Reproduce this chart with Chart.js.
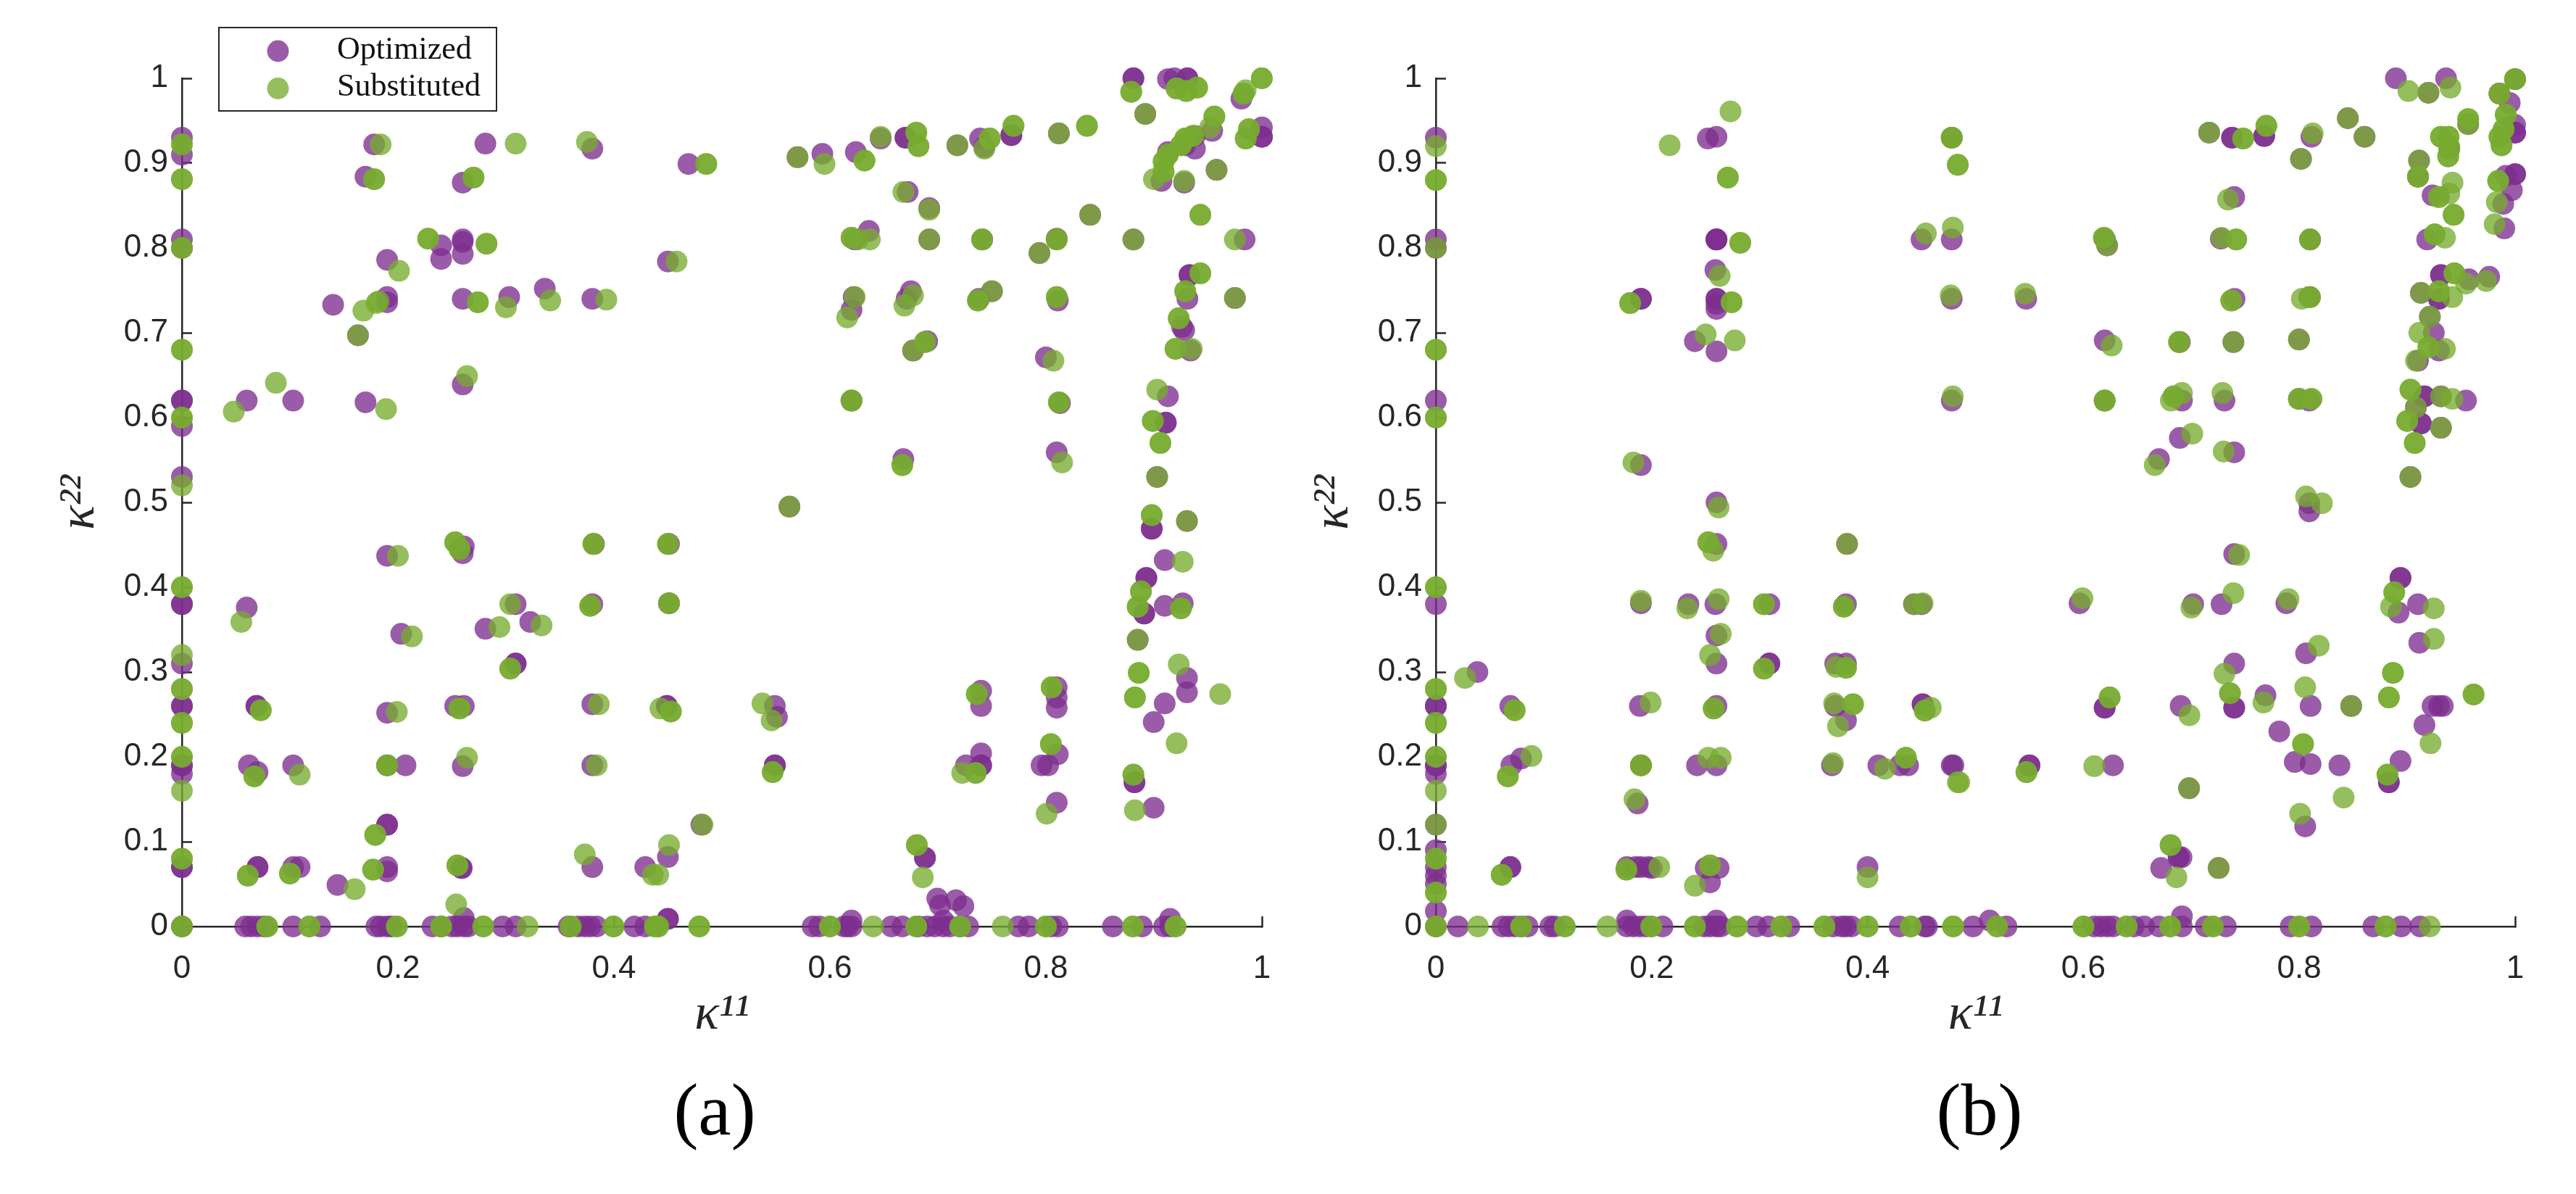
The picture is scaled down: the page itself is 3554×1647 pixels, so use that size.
<!DOCTYPE html>
<html><head><meta charset="utf-8">
<style>html,body{margin:0;padding:0;background:#fff;overflow:hidden;width:3554px;height:1647px}canvas{position:absolute;top:0}</style>
<script src="https://cdn.jsdelivr.net/npm/chart.js@4/dist/chart.umd.min.js"></script>
</head><body>
<canvas id="a" width="1800" height="1647" style="left:0"></canvas>
<canvas id="b" width="1754" height="1647" style="left:1800px"></canvas>
<script>
const seriesNames=['Optimized','Substituted'];
const xTickValues=[0,0.2,0.4,0.6,0.8,1];
const yTickValues=[0,0.1,0.2,0.3,0.4,0.5,0.6,0.7,0.8,0.9,1];
const panelCaptions=['(a)','(b)'];

const panelAOptimized=[
[0,.93],[0,.91],[0,.81],[0,.80],[0,.62],[0,.62],[0,.59],[0,.53],
[.178,.922],[.170,.884],[.26,.877],[.281,.923],[.380,.917],[.240,.803],[.26,.81],[.26,.807],[.26,.793],[.24,.787],[.19,.786],[.19,.742],[.19,.736],[.14,.733],[.26,.74],[.303,.742],[.336,.752],[.38,.74],[.163,.697],[.06,.62],[.103,.62],[.17,.618],[.26,.639],
[.45,.784],[.469,.899],[.57,.907],[.593,.911],[.624,.913],[.647,.929],[.67,.93],[.67,.93],[.739,.929],[.768,.933],[.768,.933],[.718,.921],[.743,.919],[.812,.935],[.881,1],[.881,1],[.913,.999],[.919,1],[.931,1],[.931,1],[.981,.976],[1,.942],[1,.931],[1,.931],[.938,.932],[.954,.938],[.929,.921],[.938,.917],[.913,.913],[.907,.879],[.928,.877],[.958,.892],[.892,.958],
[.672,.866],[.692,.847],[.636,.82],[.623,.81],[.692,.81],[.741,.81],[.794,.794],[.81,.811],[.881,.81],[.984,.81],[.841,.839],[.933,.768],[.933,.768],[.931,.74],[.975,.741],[.811,.738],[.75,.749],[.738,.74],[.675,.749],[.671,.74],[.622,.742],[.62,.727],[.926,.707],[.928,.703],[.934,.679],[.69,.69],[.677,.679],[.8,.671],[.62,.62],[.813,.617],[.913,.625],[.911,.594],[.911,.594],[.668,.551],[.81,.559],[.903,.53],[.5625,.495],
[0,.38],[0,.38],[0,.31],[0,.26],[0,.26],[0,.19],[0,.19],[0,.18],[0,.07],[0,.07],[0,0],
[.3815,.451],[.261,.448],[.26,.44],[.19,.437],[.06,.376],[.38,.38],[.309,.38],[.3225,.359],[.281,.351],[.203,.345],[.309,.31],[.309,.31],[.38,.262],[.069,.26],[.069,.26],[.253,.26],[.261,.26],[.19,.252],[.062,.19],[.07,.182],[.103,.19],[.207,.19],[.19,.19],[.26,.189],[.38,.19],[.19,.12],[.19,.12],[.07,.07],[.07,.07],[.103,.07],[.109,.07],[.19,.07],[.19,.065],[.259,.069],[.259,.069],[.144,.049],[.38,.07],[.429,.07],[.261,.01],
[.0586,0],[.064,0],[.07,0],[.076,0],[.103,0],[.128,0],[.18,0],[.184,0],[.19,0],[.194,0],[.232,0],[.24,0],[.25,0],[.255,0],[.261,0],[.265,0],[.297,0],[.309,0],[.358,0],[.367,0],[.373,0],[.378,0],[.384,0],[.419,0],[.429,0],
[.451,.451],[.451,.381],[.449,.26],[.449,.26],[.549,.26],[.551,.247],[.549,.19],[.549,.19],[.481,.12],[.45,.082],[.45,.009],[.45,.009],
[.584,0],[.59,0],[.613,0],[.6165,0],[.62,0],[.657,0],[.667,0],[.682,0],[.69,0],[.697,0],[.705,0],[.711,0],[.7206,0],[.728,0],[.7745,0],[.784,0],[.805,0],[.811,0],[.862,0],[.889,0],[.9094,0],[.915,0],[.62,.007],[.915,.009],[.705,.007],
[.688,.081],[.688,.081],[.6994,.033],[.702,.025],[.7167,.031],[.7236,.024],[.74,.278],[.74,.26],[.74,.204],[.726,.19],[.74,.19],[.74,.19],[.81,.282],[.81,.27],[.81,.258],[.811,.203],[.796,.19],[.802,.19],[.81,.146],[.882,.17],[.882,.17],[.8998,.14],
[.898,.469],[.898,.469],[.9306,.478],[.91,.432],[.893,.411],[.893,.411],[.891,.369],[.891,.369],[.91,.378],[.9267,.381],[.885,.338],[.9306,.293],[.9306,.276],[.91,.263],[.8998,.241]
];
const panelASubstituted=[
[0,.922],[0,.922],[0,.881],[0,.881],[0,.80],[0,.80],[0,.68],[0,.68],[0,.60],[0,.60],[0,.52],
[.184,.922],[.178,.881],[.178,.881],[.27,.883],[.27,.883],[.309,.923],[.375,.925],[.228,.811],[.228,.811],[.282,.805],[.282,.805],[.201,.773],[.18,.735],[.182,.737],[.168,.726],[.274,.736],[.274,.736],[.30,.73],[.341,.738],[.393,.739],[.163,.697],[.087,.641],[.048,.607],[.189,.61],[.264,.649],
[.4855,.899],[.4855,.899],[.458,.784],[.57,.907],[.595,.899],[.632,.903],[.632,.903],[.647,.931],[.68,.936],[.68,.936],[.682,.92],[.682,.92],[.718,.921],[.743,.917],[.748,.929],[.748,.929],[.77,.944],[.77,.944],[.812,.935],[.838,.944],[.838,.944],[.879,.984],[.879,.984],[.921,.988],[.921,.988],[.93,.985],[.93,.985],[.94,.989],[.94,.989],[.983,.982],[.983,.982],[.985,.986],[.9999,1],[.9999,1],[.892,.958],[.956,.955],[.956,.955],[.952,.942],[.936,.932],[.936,.932],[.929,.929],[.929,.929],[.925,.921],[.925,.921],[.988,.94],[.988,.94],[.985,.929],[.985,.929],[.913,.91],[.913,.91],[.909,.902],[.909,.902],[.909,.89],[.909,.89],[.9,.881],[.928,.879],[.958,.892],
[.668,.866],[.692,.845],[.62,.812],[.62,.812],[.626,.81],[.637,.81],[.692,.81],[.741,.81],[.741,.81],[.81,.81],[.81,.81],[.794,.794],[.881,.81],[.975,.81],[.841,.839],[.943,.839],[.943,.839],[.943,.77],[.943,.77],[.929,.749],[.929,.749],[.975,.741],[.81,.742],[.81,.742],[.75,.749],[.737,.738],[.737,.738],[.623,.742],[.616,.718],[.677,.744],[.669,.732],[.688,.689],[.688,.689],[.677,.679],[.807,.667],[.923,.717],[.923,.717],[.92,.681],[.92,.681],[.935,.681],[.62,.62],[.62,.62],[.812,.618],[.812,.618],[.903,.633],[.899,.596],[.899,.596],[.906,.57],[.906,.57],[.667,.544],[.667,.544],[.815,.547],[.903,.53],[.5625,.495],
[0,.40],[0,.40],[0,.32],[0,.28],[0,.28],[0,.24],[0,.24],[0,.20],[0,.20],[0,.16],[0,.08],[0,.08],[0,0],[0,0],
[.381,.451],[.381,.451],[.253,.453],[.253,.453],[.257,.445],[.257,.445],[.2,.437],[.055,.359],[.378,.378],[.378,.378],[.304,.38],[.294,.353],[.333,.355],[.213,.342],[.304,.304],[.304,.304],[.386,.262],[.073,.255],[.073,.255],[.257,.257],[.257,.257],[.199,.253],[.19,.19],[.19,.19],[.067,.177],[.067,.177],[.109,.179],[.264,.199],[.384,.19],[.179,.108],[.179,.108],[.061,.06],[.061,.06],[.1,.0625],[.1,.0625],[.177,.067],[.177,.067],[.255,.072],[.255,.072],[.16,.044],[.373,.085],[.254,.026],[.436,.061],
[.079,0],[.079,0],[.118,0],[.118,0],[.199,0],[.199,0],[.24,0],[.24,0],[.279,0],[.279,0],[.32,0],[.36,0],[.36,0],[.3996,0],[.3996,0],[.438,0],[.438,0],
[.45,.451],[.45,.451],[.451,.381],[.451,.381],[.443,.257],[.4527,.2535],[.4527,.2535],[.5375,.263],[.546,.243],[.547,.182],[.547,.182],[.482,.12],[.451,.096],[.441,.061],
[.441,0],[.441,0],[.479,0],[.479,0],[.60,0],[.60,0],[.64,0],[.68,0],[.68,0],[.7206,0],[.7206,0],[.76,0],[.8,0],[.8,0],[.8805,0],[.8805,0],[.92,0],[.92,0],
[.6805,.096],[.6805,.096],[.686,.058],[.736,.274],[.736,.274],[.735,.181],[.735,.181],[.7225,.181],[.8053,.282],[.8053,.282],[.8046,.215],[.8046,.215],[.8007,.133],[.881,.179],[.881,.179],[.8824,.137],
[.898,.485],[.898,.485],[.9306,.478],[.9267,.43],[.888,.395],[.888,.395],[.885,.377],[.885,.377],[.925,.375],[.925,.375],[.885,.338],[.886,.299],[.886,.299],[.923,.309],[.9614,.274],[.8824,.27],[.8824,.27],[.921,.216]
];
const panelBOptimized=[
[0,.93],[0,.81],[0,.80],[0,.62],[.252,.929],[.26,.931],[.26,.81],[.26,.81],[.26,.81],[.259,.774],[.19,.74],[.19,.74],[.26,.74],[.26,.74],[.26,.734],[.26,.728],[.24,.69],[.26,.678],[.45,.81],[.478,.81],[.478,.93],[.478,.74],[.478,.62],[.19,.544],[.26,.50],
[.547,.74],[.62,.81],[.622,.803],[.7165,.936],[.7377,.93],[.7377,.93],[.7675,.932],[.7675,.932],[.8016,.905],[.8113,.931],[.845,.953],[.8605,.931],[.8895,1],[.936,1],[.9197,.983],[1,.999],[.9855,.982],[.995,.971],[1,.945],[1,.936],[1,.936],[.9565,.946],[.939,.917],[.911,.903],[.91,.884],[1,.887],[1,.887],[.9913,.885],[.997,.868],[.989,.852],[.99,.823],[.9235,.862],
[.7397,.86],[.7273,.811],[.81,.81],[.9185,.81],[.74,.74],[.8093,.742],[.9127,.747],[.9313,.768],[.9313,.768],[.9572,.763],[.976,.766],[.9294,.74],[.9294,.74],[.921,.719],[.9247,.70],[.9294,.679],[.91,.667],[.6197,.691],[.6893,.689],[.739,.689],[.7997,.692],[.916,.625],[.916,.625],[.9313,.625],[.9545,.62],[.9081,.612],[.9127,.593],[.9127,.593],[.9313,.588],[.903,.53],[.6197,.62],[.6913,.62],[.7307,.62],[.7997,.622],[.8093,.62],[.6893,.576],[.7397,.559],[.67,.551],[.8093,.499],[.8093,.4894],
[0,.38],[0,.26],[0,.26],[0,.19],[0,.19],[0,.18],[0,.12],[0,.09],[0,.07],[0,.06],[0,.05],[0,.018],[0,0],
[.0385,.30],[.069,.26],[.07,.19],[.079,.198],[.069,.07],[.069,.07],[.19,.381],[.189,.26],[.19,.19],[.187,.145],[.177,.07],[.185,.07],[.19,.07],[.197,.07],[.2,.069],[.254,.052],[.25,.069],[.262,.069],[.234,.38],[.259,.38],[.26,.343],[.26,.31],[.309,.38],[.309,.31],[.309,.31],[.26,.26],[.242,.19],[.26,.19],[.26,.451],[.381,.451],[.38,.38],[.37,.31],[.38,.31],[.37,.26],[.38,.243],[.367,.19],[.41,.19],[.43,.19],[.4375,.19],[.4,.07],[.443,.38],[.45,.38],[.451,.262],[.451,.262],[.478,.19],
[.0204,0],[.0617,0],[.0674,0],[.0732,0],[.079,0],[.085,0],[.106,0],[.11,0],[.177,0],[.183,0],[.189,0],[.1946,0],[.21,0],[.2486,0],[.254,0],[.26,0],[.264,0],[.297,0],[.308,0],[.3275,0],[.368,0],[.376,0],[.38,0],[.385,0],[.4297,0],[.453,0],[.26,.007],[.177,.007],
[.455,0],[.4977,0],[.5132,.007],[.5287,0],[.61,0],[.616,0],[.622,0],[.6274,0],[.6467,0],[.6564,0],[.67,0],[.6913,0],[.6913,.012],[.7133,0],[.732,0],[.792,0],[.8113,0],[.8686,0],[.8945,0],[.912,0],
[.5964,.381],[.7017,.38],[.728,.38],[.788,.381],[.7397,.439],[.91,.38],[.892,.37],[.8938,.411],[.8938,.411],[.9112,.3345],[.8063,.322],[.7397,.31],[.7397,.258],[.7397,.258],[.7687,.2726],[.8105,.26],[.8481,.26],[.9294,.26],[.9235,.26],[.933,.26],[.6901,.26],[.6197,.258],[.6197,.258],[.916,.2375],[.7815,.23],[.7958,.194],[.8105,.1915],[.8372,.19],[.8938,.195],[.883,.17],[.883,.17],[.6979,.163],[.4795,.19],[.55,.19],[.55,.19],[.6274,.19],[.8055,.118],[.6909,.0816],[.6882,.0816],[.6882,.0816],[.672,.069],[.7253,.069]
];
const panelBSubstituted=[
[0,.92],[0,.88],[0,.88],[0,.80],[0,.68],[0,.68],[0,.60],[0,.60],[.2166,.921],[.273,.961],[.2705,.883],[.2705,.883],[.282,.806],[.282,.806],[.263,.767],[.18,.735],[.18,.735],[.274,.736],[.274,.736],[.25,.698],[.277,.691],[.454,.817],[.479,.824],[.478,.93],[.478,.93],[.4836,.898],[.4836,.898],[.477,.744],[.479,.625],[.183,.547],[.262,.494],
[.546,.746],[.619,.812],[.619,.812],[.622,.803],[.7165,.936],[.748,.929],[.748,.929],[.7695,.944],[.7695,.944],[.8016,.905],[.8125,.935],[.845,.953],[.8605,.931],[.9011,.985],[.9197,.983],[.94,.989],[.9999,.999],[.9999,.999],[.9855,.982],[.9855,.982],[.9913,.957],[.9913,.957],[.9894,.94],[.9894,.94],[.9855,.931],[.9855,.931],[.9874,.921],[.9874,.921],[.9565,.952],[.9565,.952],[.9565,.946],[.9313,.931],[.9313,.931],[.9383,.931],[.9383,.931],[.939,.919],[.939,.919],[.938,.908],[.938,.908],[.911,.903],[.91,.884],[.91,.884],[.9843,.879],[.9843,.879],[.983,.854],[.981,.828],[.942,.877],[.939,.864],[.9294,.86],[.9294,.86],[.943,.839],[.943,.839],
[.734,.857],[.728,.812],[.7416,.81],[.7416,.81],[.81,.81],[.81,.81],[.9255,.816],[.9255,.816],[.935,.812],[.737,.738],[.737,.738],[.8024,.74],[.81,.742],[.81,.742],[.9127,.747],[.9437,.77],[.9437,.77],[.9545,.758],[.9731,.761],[.9294,.749],[.9294,.749],[.9418,.742],[.921,.719],[.9112,.70],[.9197,.683],[.9197,.683],[.935,.681],[.9081,.667],[.6262,.685],[.6886,.689],[.6886,.689],[.7389,.689],[.7997,.692],[.903,.633],[.903,.633],[.9313,.625],[.9418,.622],[.9081,.612],[.9,.596],[.9,.596],[.9313,.588],[.907,.57],[.907,.57],[.903,.53],[.6197,.62],[.6197,.62],[.6913,.629],[.6835,.625],[.6835,.625],[.681,.62],[.7288,.629],[.7997,.622],[.7997,.622],[.8113,.622],[.8113,.622],[.7009,.581],[.73,.56],[.6661,.544],[.8063,.507],[.821,.499],
[0,.40],[0,.40],[0,.28],[0,.28],[0,.24],[0,.24],[0,.20],[0,.20],[0,.16],[0,.12],[0,.08],[0,.08],[0,.04],[0,.04],[0,0],[0,0],
[.027,.293],[.073,.255],[.073,.255],[.0667,.177],[.0667,.177],[.0886,.201],[.061,.061],[.061,.061],[.19,.384],[.199,.264],[.19,.19],[.19,.19],[.184,.15],[.1765,.067],[.1765,.067],[.207,.07],[.24,.048],[.254,.072],[.254,.072],[.233,.375],[.262,.386],[.264,.345],[.254,.32],[.304,.38],[.304,.38],[.304,.304],[.304,.304],[.2574,.257],[.2574,.257],[.2524,.199],[.264,.199],[.2524,.453],[.2524,.453],[.257,.443],[.381,.451],[.378,.377],[.378,.377],[.371,.306],[.38,.305],[.38,.305],[.369,.263],[.3865,.262],[.3865,.262],[.3726,.236],[.368,.1925],[.416,.186],[.4355,.199],[.4355,.199],[.4,.058],[.451,.381],[.443,.38],[.453,.2545],[.453,.2545],[.4586,.258],[.4836,.17],
[.039,0],[.079,0],[.079,0],[.1195,0],[.1195,0],[.159,0],[.1996,0],[.1996,0],[.24,0],[.24,0],[.279,0],[.279,0],[.32,0],[.32,0],[.36,0],[.36,0],[.4,0],[.4,0],[.44,0],[.44,0],[.479,0],
[.4795,0],[.52,0],[.52,0],[.6,0],[.6,0],[.64,0],[.64,0],[.6804,0],[.6804,0],[.72,0],[.72,0],[.8,0],[.8,0],[.88,0],[.88,0],[.921,0],
[.5991,.387],[.7,.376],[.739,.393],[.79,.386],[.7443,.438],[.9247,.375],[.885,.377],[.888,.394],[.888,.394],[.9247,.339],[.818,.331],[.8868,.299],[.8868,.299],[.7307,.298],[.7358,.275],[.7358,.275],[.7668,.264],[.8055,.282],[.8481,.26],[.883,.27],[.883,.27],[.9615,.2736],[.9615,.2736],[.6982,.249],[.6243,.27],[.6243,.27],[.9216,.216],[.8035,.215],[.8035,.215],[.8411,.152],[.8817,.179],[.8817,.179],[.6979,.163],[.485,.17],[.5472,.182],[.5472,.182],[.61,.189],[.8008,.133],[.6808,.096],[.6808,.096],[.6862,.058],[.7253,.069]
];

const INK='#262626';
const PURPLE='rgba(125,46,143,0.78)';
const GREEN='rgba(119,172,48,0.78)';
const R=15;

function toPoints(list){return list.map(p=>({x:p[0],y:p[1]}));}
const tickText=v=>String(+Number(v).toFixed(1));

// Legend frame with the dataset names; placed over panel (a)
const frameLegend={id:'frameLegend',afterDraw(chart,args,o){
  if(!o.show)return;
  const c=chart.ctx;c.save();
  c.strokeStyle=INK;c.lineWidth=2;c.strokeRect(302,38,383,115);
  [[70.5,PURPLE],[122,GREEN]].forEach((row,i)=>{
    c.fillStyle=row[1];c.beginPath();c.arc(383.5,row[0],R,0,Math.PI*2);c.fill();
    c.fillStyle='#111';c.font='44px "Liberation Serif"';c.textAlign='left';c.textBaseline='alphabetic';
    c.fillText(seriesNames[i],465,row[0]+10);
  });
  c.restore();
}};
const placeCaption={id:'placeCaption',beforeDraw(chart,args,o){
  const t=chart.titleBlock;t.left=o.cx-100;t.right=o.cx+100;t.top=o.top;
}};

function panel(id,opt,sub,cfg){
  return new Chart(document.getElementById(id),{
    type:'scatter',
    data:{datasets:[
      {label:seriesNames[0],data:toPoints(opt),backgroundColor:PURPLE,borderWidth:0,pointRadius:R,pointHoverRadius:R,clip:false,order:2},
      {label:seriesNames[1],data:toPoints(sub),backgroundColor:GREEN,borderWidth:0,pointRadius:R,pointHoverRadius:R,clip:false,order:1}
    ]},
    plugins:[frameLegend,placeCaption],
    options:{
      responsive:false,animation:false,devicePixelRatio:1,events:[],
      layout:{padding:{left:cfg.padLeft,right:cfg.padRight,top:108,bottom:1647-1278-102-158}},
      plugins:{
        legend:{display:false},tooltip:{enabled:false},
        title:{display:true,text:cfg.caption,position:'bottom',fullSize:false,color:'#000',padding:0,
          font:{family:'"Liberation Serif"',size:102,weight:'normal',lineHeight:1}},
        frameLegend:{show:cfg.legend},
        placeCaption:{cx:cfg.captionX,top:cfg.captionTop}
      },
      scales:{
        x:{type:'linear',min:0,max:1,
          afterBuildTicks:s=>{s.ticks=xTickValues.map(v=>({value:v}));},
          afterFit:s=>{s.height=158;},
          border:{color:INK,width:2.5},
          grid:{drawOnChartArea:false,drawTicks:true,tickLength:-14,tickColor:INK,tickWidth:2.5},
          ticks:{color:INK,maxRotation:0,autoSkip:false,padding:46,callback:tickText,font:{family:'"Liberation Sans"',size:44}},
          title:{display:true,text:'κ¹¹',color:INK,padding:0,font:{family:'"Liberation Serif"',style:'italic',size:70,lineHeight:1}}
        },
        y:{type:'linear',min:0,max:1,
          afterBuildTicks:s=>{s.ticks=yTickValues.map(v=>({value:v}));},
          afterFit:s=>{s.width=cfg.axisWidth;},
          border:{color:INK,width:2.5},
          grid:{drawOnChartArea:false,drawTicks:true,tickLength:-14,tickColor:INK,tickWidth:2.5},
          ticks:{color:INK,autoSkip:false,padding:33,callback:tickText,font:{family:'"Liberation Sans"',size:44}},
          title:{display:true,text:'κ²²',color:INK,padding:0,font:{family:'"Liberation Serif"',style:'italic',size:70,lineHeight:1}}
        }
      }
    }
  });
}
const leftMargin=76;
panel('a',panelAOptimized,panelASubstituted,{caption:panelCaptions[0],captionX:986,captionTop:1487,padLeft:leftMargin,axisWidth:251-leftMargin,padRight:59,legend:true});
panel('b',panelBOptimized,panelBSubstituted,{caption:panelCaptions[1],captionX:2731-1800,captionTop:1487,padLeft:6,axisWidth:175,padRight:84,legend:false});
</script>
</body></html>
